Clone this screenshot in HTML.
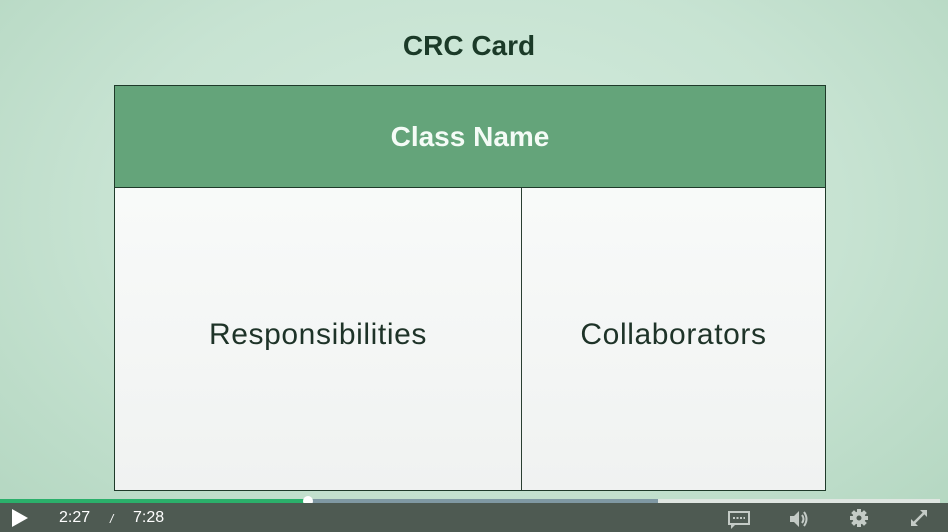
<!DOCTYPE html>
<html><head><meta charset="utf-8"><style>
html,body{margin:0;padding:0}
body{width:948px;height:532px;position:relative;overflow:hidden;font-family:"Liberation Sans",sans-serif;
background:radial-gradient(ellipse at 50% 40%,#d3ebdd 0%,#c7e3d2 55%,#b3d6c0 100%);}
.abs{position:absolute}
#title{left:0;width:938px;top:30px;text-align:center;font-size:28px;font-weight:bold;color:#1b3a28}
#card{left:114px;top:85px;width:710px;height:404px;border:1px solid #1f3a2a;background:linear-gradient(#fbfdfc,#f0f2f1)}
#header{left:0;top:0;width:710px;height:101px;background:#64a47a;border-bottom:1px solid #1f3a2a;color:#f4fbf6;font-size:28px;font-weight:bold;text-align:center;line-height:101px}
#divider{left:406px;top:102px;width:1px;height:302px;background:#2a3f32}
.cell{top:102px;height:302px;line-height:294px;text-align:center;font-size:30px;letter-spacing:0.6px;color:#1e3328}
#bar{left:0;top:503px;width:948px;height:29px;background:#4e5a52}
.t{color:#fff;font-size:16px;top:509px}
</style></head><body>
<div class="abs" id="title">CRC Card</div>
<div class="abs" id="card">
  <div class="abs" id="header">Class Name</div>
  <div class="abs cell" style="left:0;width:406px">Responsibilities</div>
  <div class="abs" id="divider"></div>
  <div class="abs cell" style="left:407px;width:303px">Collaborators</div>
</div>
<div class="abs" style="left:0;top:499px;width:940px;height:4px;background:#dfe6e1"></div>
<div class="abs" style="left:0;top:499px;width:658px;height:4px;background:#7f98a3"></div>
<div class="abs" style="left:0;top:499px;width:308px;height:4px;background:#2bb06b"></div>
<div class="abs" style="left:303px;top:496px;width:10px;height:10px;border-radius:50%;background:#fff"></div>
<div class="abs" id="bar"></div>
<svg class="abs" style="left:10px;top:508px" width="20" height="20"><polygon points="2,1 18,10 2,19" fill="#fff"/></svg>
<div class="abs t" style="left:59px">2:27</div>
<div class="abs t" style="left:110px;font-size:12px;top:512px;font-style:italic">/</div>
<div class="abs t" style="left:133px">7:28</div>
<svg class="abs" style="left:728px;top:510px" width="24" height="20"><rect x="1" y="2" width="20" height="12" fill="none" stroke="#c4cbc6" stroke-width="2"/><path d="M3 14 L3 19 L8 14" fill="#c4cbc6"/><line x1="5" y1="8" x2="17" y2="8" stroke="#c4cbc6" stroke-width="2" stroke-dasharray="2,1.5"/></svg>
<svg class="abs" style="left:789px;top:509px" width="22" height="20"><polygon points="1,7 5,7 10,2 10,18 5,13 1,13" fill="#c4cbc6"/><path d="M13 6 Q16 10 13 14 M15 3 Q20 10 15 17" fill="none" stroke="#c4cbc6" stroke-width="2"/></svg>
<svg class="abs" style="left:849px;top:508px" width="20" height="20"><g stroke="#c4cbc6" stroke-width="4"><line x1="10" y1="1" x2="10" y2="19"/><line x1="1" y1="10" x2="19" y2="10"/><line x1="3.6" y1="3.6" x2="16.4" y2="16.4"/><line x1="16.4" y1="3.6" x2="3.6" y2="16.4"/></g><circle cx="10" cy="10" r="6.5" fill="#c4cbc6"/><circle cx="10" cy="10" r="2.5" fill="#4e5a52"/></svg>
<svg class="abs" style="left:909px;top:508px" width="20" height="20"><line x1="4" y1="16" x2="16" y2="4" stroke="#c4cbc6" stroke-width="2.5"/><polygon points="11,2 18,2 18,9" fill="#c4cbc6"/><polygon points="2,11 2,18 9,18" fill="#c4cbc6"/></svg>
</body></html>
